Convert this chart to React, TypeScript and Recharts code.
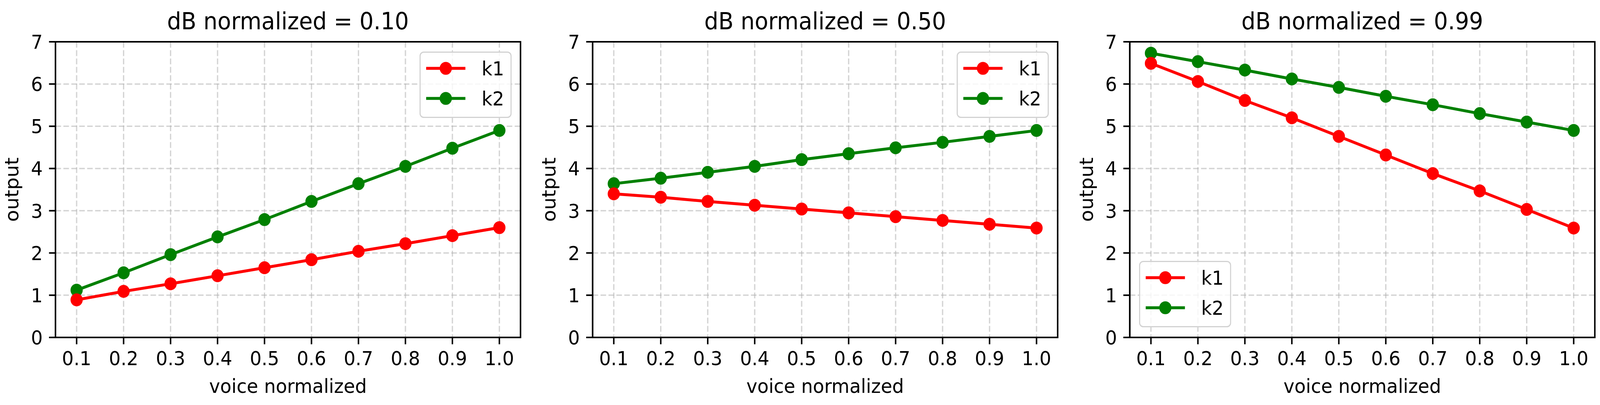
import React from "react";
import {
  CartesianGrid,
  Legend,
  Line,
  LineChart,
  ReferenceArea,
  XAxis,
  YAxis,
} from "recharts";

// voice normalized (x) positions shared by all three panels
const VOICE = [0.1, 0.2, 0.3, 0.4, 0.5, 0.6, 0.7, 0.8, 0.9, 1.0];
const X_TICKS = [0.1, 0.2, 0.3, 0.4, 0.5, 0.6, 0.7, 0.8, 0.9, 1.0];
const Y_TICKS = [0, 1, 2, 3, 4, 5, 6, 7];

const TITLES = ["dB normalized = 0.10", "dB normalized = 0.50", "dB normalized = 0.99"];

// dB normalized = 0.10
const K1_DB010 = [0.89, 1.09, 1.27, 1.46, 1.65, 1.84, 2.04, 2.22, 2.41, 2.6];
const K2_DB010 = [1.12, 1.53, 1.96, 2.38, 2.79, 3.22, 3.64, 4.05, 4.48, 4.9];
// dB normalized = 0.50
const K1_DB050 = [3.4, 3.32, 3.22, 3.13, 3.04, 2.95, 2.86, 2.77, 2.68, 2.59];
const K2_DB050 = [3.64, 3.77, 3.91, 4.05, 4.21, 4.35, 4.49, 4.62, 4.76, 4.9];
// dB normalized = 0.99
const K1_DB099 = [6.49, 6.06, 5.61, 5.2, 4.76, 4.32, 3.88, 3.47, 3.03, 2.59];
const K2_DB099 = [6.73, 6.53, 6.33, 6.12, 5.92, 5.71, 5.51, 5.3, 5.1, 4.9];

const RED = "#ff0000";
const GREEN = "#008000";
const FONT = "'DejaVu Sans', sans-serif";

const FIG_W = 4325;
const FIG_H = 1037;

const XTick = (props: any) => {
  const { x, y, payload } = props;
  return (
    <text x={x} y={y} dy={54} textAnchor="middle" fontFamily={FONT} fontSize={50} fill="#000">
      {Number(payload.value).toFixed(1)}
    </text>
  );
};

const YTick = (props: any) => {
  const { x, y, payload } = props;
  return (
    <text x={x} y={y} dx={-17} dy={18} textAnchor="end" fontFamily={FONT} fontSize={50} fill="#000">
      {payload.value}
    </text>
  );
};

function LegendBox() {
  const rows = [
    { name: "k1", color: RED, cy: 43 },
    { name: "k2", color: GREEN, cy: 120 },
  ];
  return (
    <svg width={249} height={170} style={{ display: "block" }}>
      <rect x={1.5} y={1.5} width={246} height={167} rx={10} fill="#fff" fillOpacity={0.8} stroke="#d2d2d2" strokeWidth={3} />
      {rows.map((r) => (
        <g key={r.name}>
          <line x1={18} x2={124} y1={r.cy} y2={r.cy} stroke={r.color} strokeWidth={7.5} />
          <circle cx={71} cy={r.cy} r={16.5} fill={r.color} />
          <text x={168} y={r.cy + 18} fontFamily={FONT} fontSize={50} fill="#000">
            {r.name}
          </text>
        </g>
      ))}
    </svg>
  );
}

function Panel({
  title,
  k1,
  k2,
  legendLeft,
  legendTop,
}: {
  title: string;
  k1: number[];
  k2: number[];
  legendLeft: number;
  legendTop: number;
}) {
  const data = VOICE.map((v, i) => ({ v, k1: k1[i], k2: k2[i] }));
  return (
    <LineChart width={1421} height={FIG_H} data={data} margin={{ top: 107, right: 14, bottom: 0, left: 0 }}>
      <CartesianGrid stroke="#b0b0b0" strokeOpacity={0.55} strokeWidth={3.5} strokeDasharray="15 6.4" />
      <XAxis
        dataKey="v"
        type="number"
        domain={[0.055, 1.045]}
        ticks={X_TICKS}
        interval={0}
        allowDataOverflow
        height={173}
        tickSize={17.5}
        tickMargin={0}
        axisLine={{ stroke: "#000", strokeWidth: 4 }}
        tickLine={{ stroke: "#000", strokeWidth: 4 }}
        tick={XTick}
        label={{
          content: (p: any) => {
            const vb = p.viewBox || { x: 150, width: 1257 };
            const cx = vb.x + vb.width / 2;
            return (
              <g>
                <text x={cx} y={1006} textAnchor="middle" fontFamily={FONT} fontSize={50} fill="#000">
                  voice normalized
                </text>
                <text x={cx} y={75} textAnchor="middle" fontFamily={FONT} fontSize={60} fill="#000">
                  {title}
                </text>
              </g>
            );
          },
        }}
      />
      <YAxis
        type="number"
        domain={[0, 7]}
        ticks={Y_TICKS}
        interval={0}
        width={150}
        tickSize={17.5}
        tickMargin={0}
        axisLine={{ stroke: "#000", strokeWidth: 4 }}
        tickLine={{ stroke: "#000", strokeWidth: 4 }}
        tick={YTick}
        label={{
          content: (p: any) => {
            const vb = p.viewBox || { y: 107, height: 757 };
            const cy = vb.y + vb.height / 2;
            return (
              <text
                x={50}
                y={cy}
                transform={`rotate(-90, 50, ${cy})`}
                textAnchor="middle"
                fontFamily={FONT}
                fontSize={50}
                fill="#000"
              >
                output
              </text>
            );
          },
        }}
      />
      <ReferenceArea x1={0.055} x2={1.045} y1={0} y2={7} fill="none" stroke="#000" strokeWidth={4} ifOverflow="visible" />
      <Line
        type="linear"
        dataKey="k2"
        stroke={GREEN}
        strokeWidth={7.5}
        dot={{ r: 16.5, fill: GREEN, stroke: GREEN, strokeWidth: 0 }}
        activeDot={false}
        isAnimationActive={false}
      />
      <Line
        type="linear"
        dataKey="k1"
        stroke={RED}
        strokeWidth={7.5}
        dot={{ r: 16.5, fill: RED, stroke: RED, strokeWidth: 0 }}
        activeDot={false}
        isAnimationActive={false}
      />
      <Legend
        layout="vertical"
        align="center"
        verticalAlign="middle"
        wrapperStyle={{ left: legendLeft, top: legendTop, width: 249, height: 170 }}
        content={() => <LegendBox />}
      />
    </LineChart>
  );
}

export default function App() {
  // the window may be narrower than the figure; squeeze horizontally so the whole figure fits
  const sx = Math.min(1, window.innerWidth / FIG_W);
  return (
    <div style={{ position: "fixed", left: 0, top: 0, width: "100vw", height: FIG_H, overflow: "hidden", background: "#fff" }}>
      <div
        style={{
          position: "absolute",
          left: 0,
          top: 0,
          width: FIG_W,
          height: FIG_H,
          transform: `scale(${sx}, 1)`,
          transformOrigin: "0 0",
        }}
      >
        <div style={{ position: "absolute", left: 0, top: 0 }}>
          <Panel title={TITLES[0]} k1={K1_DB010} k2={K2_DB010} legendLeft={1134} legendTop={132} />
        </div>
        <div style={{ position: "absolute", left: 1452, top: 0 }}>
          <Panel title={TITLES[1]} k1={K1_DB050} k2={K2_DB050} legendLeft={1134} legendTop={132} />
        </div>
        <div style={{ position: "absolute", left: 2904, top: 0 }}>
          <Panel title={TITLES[2]} k1={K1_DB099} k2={K2_DB099} legendLeft={175} legendTop={668} />
        </div>
      </div>
    </div>
  );
}
